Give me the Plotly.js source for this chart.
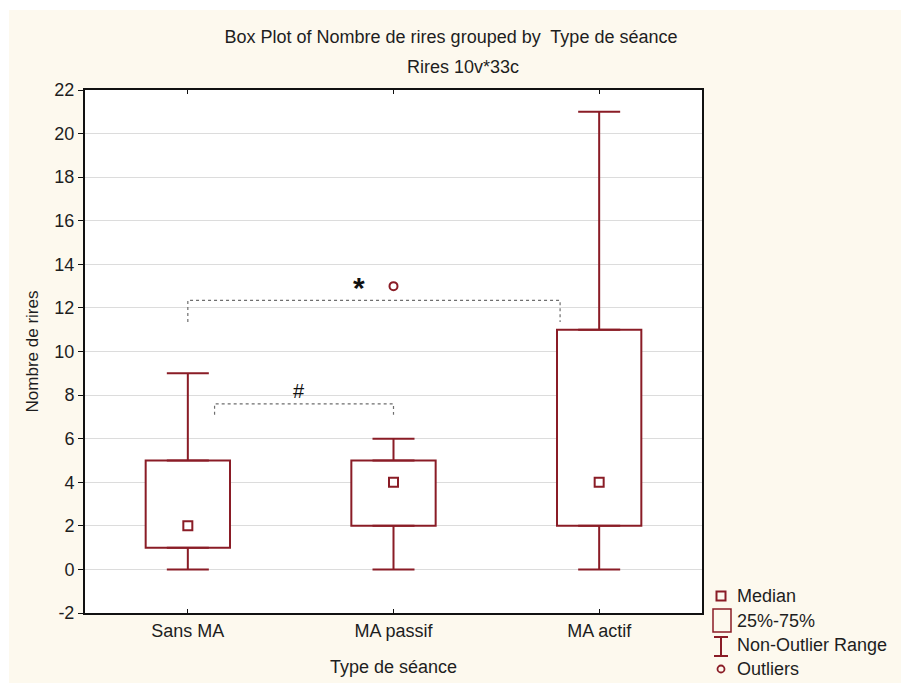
<!DOCTYPE html>
<html>
<head>
<meta charset="utf-8">
<script src="https://cdn.plot.ly/plotly-3.0.1.min.js"></script>
<style>
html,body{margin:0;padding:0;background:#ffffff;}
#chart{position:absolute;left:9px;top:10px;width:892px;height:673px;}
</style>
</head>
<body>
<div id="chart"></div>
<script>
// ---- data ----
const categories = ['Sans MA', 'MA passif', 'MA actif'];
const q1 = [1, 2, 2];
const medians = [2, 4, 4];
const q3 = [5, 5, 11];
const whiskerLow = [0, 0, 0];
const whiskerHigh = [9, 6, 21];
const outlierCats = ['MA passif'];
const outlierVals = [13];
const yTicks = [-2, 0, 2, 4, 6, 8, 10, 12, 14, 16, 18, 20, 22];
const yTickLabels = ['-2', '0', '2', '4', '6', '8', '10', '12', '14', '16', '18', '20', '22'];
// significance brackets
const bracketStart = [0, 0.13];
const bracketEnd = [1.81, 1.0];
const bracketTop = [12.35, 7.6];
const bracketBottom = [11.35, 7.1];
const bracketLabels = ['<b>*</b>', '#'];
const bracketLabelX = [0.83, 0.54];
const bracketLabelY = [12.92, 8.2];
const legendLabels = ['Median', '25%-75%', 'Non-Outlier Range', 'Outliers'];

const RED = '#8a1c26';
const FONT = 'Liberation Sans, Arial, sans-serif';
const TXT = '#1e1e1e';

// plot-area geometry in page pixels (used only for legend / title placement)
const PL = 85, PR = 702, PT = 90, PB = 613;
const px = X => (X - PL) / (PR - PL);
const py = Y => (PB - Y) / (PB - PT);

const traces = [];
// boxes (25%-75%)
traces.push({
  type: 'bar', x: categories, base: q1,
  y: q3.map((v, i) => v - q1[i]),
  width: 0.41,
  marker: {color: '#ffffff', line: {color: RED, width: 2}},
  hoverinfo: 'skip', showlegend: false
});
// upper whiskers
traces.push({
  type: 'scatter', mode: 'markers', x: categories, y: q3,
  marker: {size: 1, color: 'rgba(0,0,0,0)'},
  error_y: {type: 'data', symmetric: false,
    array: whiskerHigh.map((v, i) => v - q3[i]),
    arrayminus: q3.map(() => 0),
    color: RED, thickness: 2, width: 21},
  showlegend: false, hoverinfo: 'skip'
});
// lower whiskers
traces.push({
  type: 'scatter', mode: 'markers', x: categories, y: q1,
  marker: {size: 1, color: 'rgba(0,0,0,0)'},
  error_y: {type: 'data', symmetric: false,
    array: q1.map(() => 0),
    arrayminus: q1.map((v, i) => v - whiskerLow[i]),
    color: RED, thickness: 2, width: 21},
  showlegend: false, hoverinfo: 'skip'
});
// medians
traces.push({
  type: 'scatter', mode: 'markers', x: categories, y: medians,
  marker: {symbol: 'square-open', size: 9, color: RED, line: {width: 2, color: RED}},
  showlegend: false
});
// outliers
traces.push({
  type: 'scatter', mode: 'markers', x: outlierCats, y: outlierVals,
  marker: {symbol: 'circle-open', size: 8, color: RED, line: {width: 2, color: RED}},
  showlegend: false
});

const shapes = [];
const annotations = [];
// brackets
for (let i = 0; i < bracketStart.length; i++) {
  shapes.push({
    type: 'path', xref: 'x', yref: 'y',
    path: `M ${bracketStart[i]},${bracketBottom[i]} L ${bracketStart[i]},${bracketTop[i]} L ${bracketEnd[i]},${bracketTop[i]} L ${bracketEnd[i]},${bracketBottom[i]}`,
    line: {color: '#6e6e6e', width: 1.2, dash: 'dot'}
  });
  annotations.push({
    xref: 'x', yref: 'y', x: bracketLabelX[i], y: bracketLabelY[i],
    text: bracketLabels[i], showarrow: false,
    font: {family: FONT, size: i === 0 ? 30 : 20, color: '#111'},
    xanchor: 'center', yanchor: 'middle'
  });
}

// subtitle
annotations.push({
  xref: 'paper', yref: 'paper', x: px(463), y: py(67),
  text: 'Rires 10v*33c', showarrow: false,
  font: {family: FONT, size: 18, color: TXT},
  xanchor: 'center', yanchor: 'middle'
});

// legend (drawn manually)
const legY = [596, 621, 645, 669];
legendLabels.forEach((t, i) => {
  annotations.push({
    xref: 'paper', yref: 'paper', x: px(735), y: py(legY[i]),
    text: t, showarrow: false, xanchor: 'left', yanchor: 'middle',
    font: {family: FONT, size: 18, color: TXT}
  });
});
const sq = (x0, y0, x1, y1, w) => ({
  type: 'rect', xref: 'paper', yref: 'paper',
  x0: px(x0), x1: px(x1), y0: py(y1), y1: py(y0),
  line: {color: RED, width: w}, fillcolor: 'rgba(0,0,0,0)'
});
const ln = (x0, y0, x1, y1) => ({
  type: 'line', xref: 'paper', yref: 'paper',
  x0: px(x0), x1: px(x1), y0: py(y0), y1: py(y1),
  line: {color: RED, width: 2}
});
shapes.push(sq(716.5, 591.5, 725.5, 600.5, 2));
shapes.push(sq(713, 609, 731, 632, 1.5));
shapes.push(ln(721, 637, 721, 656));
shapes.push(ln(714, 637, 728, 637));
shapes.push(ln(714, 656, 728, 656));
shapes.push({type: 'circle', xref: 'paper', yref: 'paper',
  x0: px(717.5), x1: px(724.5), y0: py(672.5), y1: py(665.5),
  line: {color: RED, width: 1.8}, fillcolor: 'rgba(0,0,0,0)'});

const layout = {
  width: 892, height: 673,
  margin: {l: 76, r: 199, t: 80, b: 70, pad: 0},
  paper_bgcolor: '#fdf9ee',
  plot_bgcolor: '#ffffff',
  font: {family: FONT, size: 18, color: TXT},
  title: {
    text: 'Box Plot of Nombre de rires grouped by  Type de séance',
    font: {family: FONT, size: 18, color: TXT},
    xref: 'container', yref: 'container',
    x: (451 - 9) / 892, y: 1 - (37 - 10) / 673,
    xanchor: 'center', yanchor: 'middle'
  },
  xaxis: {
    type: 'category', range: [-0.5, 2.5],
    showgrid: false, zeroline: false,
    showline: true, linecolor: '#111', linewidth: 2, mirror: 'ticks',
    ticks: 'inside', ticklen: 4, tickcolor: '#111', tickwidth: 1,
    tickfont: {family: FONT, size: 18, color: TXT},
    title: {text: 'Type de séance', font: {family: FONT, size: 18, color: TXT}, standoff: 21},
    fixedrange: true
  },
  yaxis: {
    range: [-2, 22], tickvals: yTicks, ticktext: yTickLabels,
    showgrid: true, gridcolor: '#dcdcdc', gridwidth: 1, zeroline: false,
    showline: true, linecolor: '#111', linewidth: 2, mirror: true,
    ticks: 'outside', ticklen: 5, tickcolor: '#111', tickwidth: 1,
    tickfont: {family: FONT, size: 18, color: TXT},
    title: {text: 'Nombre de rires', font: {family: FONT, size: 17, color: TXT}, standoff: 11},
    fixedrange: true
  },
  shapes: shapes,
  annotations: annotations,
  showlegend: false,
  bargap: 0
};

Plotly.newPlot('chart', traces, layout, {displayModeBar: false, staticPlot: true});
</script>
</body>
</html>
